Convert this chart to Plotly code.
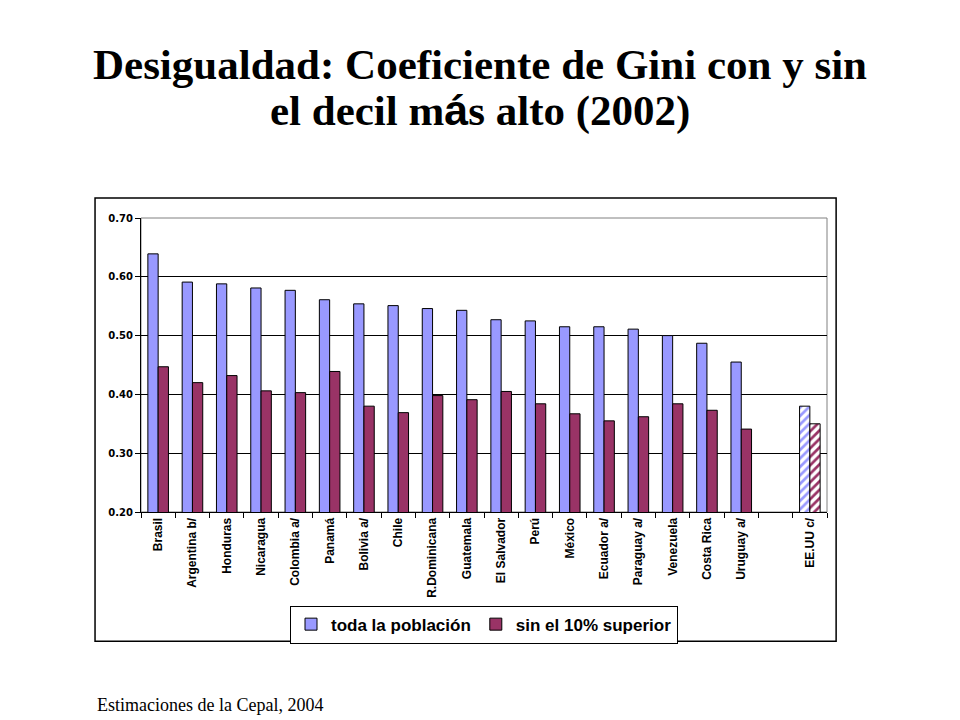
import plotly.graph_objects as go

# Gini coefficients (2002)
countries = ["Brasil", "Argentina b/", "Honduras", "Nicaragua", "Colombia a/",
             "Panamá", "Bolivia a/", "Chile", "R.Dominicana", "Guatemala",
             "El Salvador", "Perú", "México", "Ecuador a/", "Paraguay a/",
             "Venezuela", "Costa Rica", "Uruguay a/", " ", "EE.UU c/"]
toda = [0.639, 0.591, 0.588, 0.581, 0.577, 0.561, 0.554, 0.551, 0.546, 0.543,
        0.527, 0.525, 0.515, 0.515, 0.511, 0.500, 0.487, 0.455, None, 0.380]
sin10 = [0.447, 0.420, 0.432, 0.406, 0.403, 0.439, 0.380, 0.369, 0.398, 0.391,
         0.405, 0.384, 0.367, 0.355, 0.362, 0.384, 0.373, 0.341, None, 0.350]

blue = "#9999FF"
red = "#993366"

# only the US bars are hatched
shapes_pat = [""] * (len(countries) - 1) + ["/"]
bg_pat = ["rgba(0,0,0,0)"] * (len(countries) - 1) + ["white"]

fig = go.Figure()
fig.add_trace(go.Bar(
    x=countries, y=toda, name="toda la población",
    marker=dict(color=blue, line=dict(color="black", width=1),
                pattern=dict(shape=shapes_pat, bgcolor=bg_pat, fgcolor=blue,
                             size=6, solidity=0.45, fillmode="replace")),
))
fig.add_trace(go.Bar(
    x=countries, y=sin10, name="sin el 10% superior",
    marker=dict(color=red, line=dict(color="black", width=1),
                pattern=dict(shape=shapes_pat, bgcolor=bg_pat, fgcolor=red,
                             size=6, solidity=0.45, fillmode="replace")),
))

# outer chart frame and plot-area border
fig.add_shape(type="rect", xref="paper", yref="paper",
              x0=-0.067, x1=1.0133, y0=-0.44, y1=1.068,
              line=dict(color="black", width=1.5), layer="below")
fig.add_shape(type="rect", xref="paper", yref="paper",
              x0=0, x1=1, y0=0, y1=1,
              line=dict(color="#808080", width=1), layer="below")

# page body has an 8px margin, so the figure is shifted back by 8px
fig.update_layout(
    width=952, height=712,
    margin=dict(l=133, r=133, t=210, b=208),
    paper_bgcolor="white", plot_bgcolor="white",
    barmode="group", bargap=0.4, bargroupgap=0,
    font=dict(family="Liberation Sans, Arial, sans-serif", color="black"),
    showlegend=True,
    legend=dict(orientation="h", x=0.5, xanchor="center", y=-0.383, yanchor="middle",
                bordercolor="black", borderwidth=1, bgcolor="white",
                font=dict(size=17, family="Liberation Sans, Arial, sans-serif",
                          weight="bold"),
                itemwidth=30, traceorder="normal"),
    xaxis=dict(type="category", categoryorder="array", categoryarray=countries,
               tickangle=-90, ticks="outside", tickson="boundaries", ticklen=5,
               tickcolor="black", showline=True, linecolor="black", linewidth=1,
               tickfont=dict(size=12, family="Liberation Sans, Arial, sans-serif",
                             weight="bold"),
               showgrid=False),
    yaxis=dict(range=[0.2, 0.7], dtick=0.1, tickformat=".2f",
               ticks="outside", ticklen=5, tickcolor="black",
               showline=True, linecolor="black", linewidth=1,
               showgrid=True, gridcolor="black", gridwidth=1,
               tickfont=dict(size=10, family="DejaVu Sans, Verdana, sans-serif",
                             weight="bold"),
               zeroline=False),
    annotations=[
        dict(text="<b>Desigualdad: Coeficiente de Gini con y sin</b>",
             xref="paper", yref="paper", x=(480 - 141) / 686, y=(512 - 64) / 294,
             xanchor="center", yanchor="middle", showarrow=False,
             font=dict(family="Liberation Serif, Times New Roman, serif", size=43)),
        dict(text="<b>el decil m<span style='font-family:Liberation Sans, Arial, sans-serif'>á</span>s alto (2002)</b>",
             xref="paper", yref="paper", x=(480 - 141) / 686, y=(512 - 110) / 294,
             xanchor="center", yanchor="middle", showarrow=False,
             font=dict(family="Liberation Serif, Times New Roman, serif", size=43)),
        dict(text="Estimaciones de la Cepal, 2004",
             xref="paper", yref="paper", x=(95 - 141) / 686, y=(512 - 705) / 294,
             xanchor="left", yanchor="middle", showarrow=False,
             font=dict(family="Liberation Serif, Times New Roman, serif", size=18)),
    ],
)

fig.write_html("out.html")
